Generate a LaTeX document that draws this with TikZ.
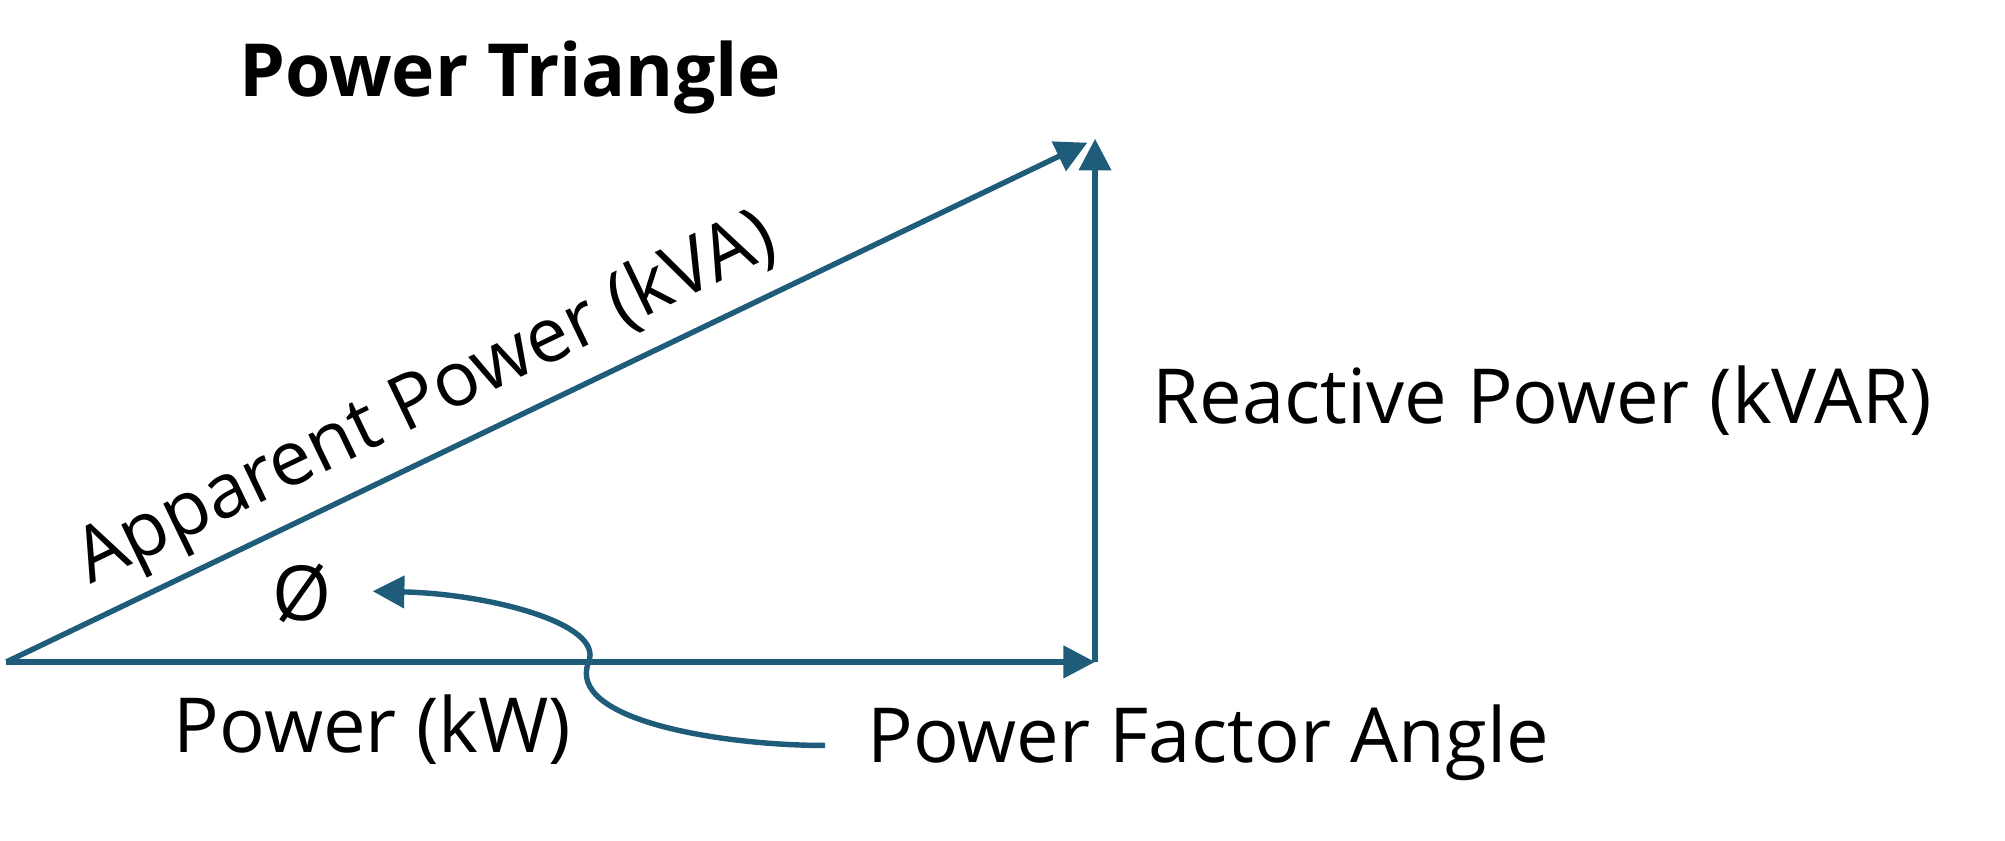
\documentclass[tikz,border=0pt]{standalone}
\usepackage{fontspec}
\setmainfont{Open Sans}
\usetikzlibrary{arrows.meta}
\definecolor{ln}{HTML}{1F5C7A}
\begin{document}
\begin{tikzpicture}[x=0.01cm,y=-0.01cm,
  vec/.style={draw=ln,line width=1.2pt,-{Triangle[length=7pt,width=7pt]}},
  lbl/.style={font=\fontsize{16.8}{18}\selectfont,inner sep=0pt}]
\useasboundingbox (0,0) rectangle (1560,654);
\coordinate (O) at (5,515);
\coordinate (B) at (852,515);
\coordinate (T) at (852,108);
\coordinate (TA) at (846,111);
\draw[vec] (O) -- (B);
\draw[vec] (B) -- (T);
\draw[vec] (O) -- (TA);
\node[font=\fontsize{16.2}{18}\selectfont\bfseries,inner sep=0pt] (title) at (397,60) {Power Triangle};
\node[lbl] (react) at (1200,312) {Reactive Power (kVAR)};
\node[lbl] (kw) at (290,568) {Power (kW)};
\node[lbl] (pfa) at (940,578) {Power Factor Angle};
\node[lbl] (phi) at (235,462) {Ø};
\node[lbl,rotate=25.7] (app) at (332,312) {Apparent Power (kVA)};
\coordinate (cs) at (642,580);
\coordinate (ce) at (290,460);
\draw[vec] (cs) .. controls (560,580) and (440,560) .. (458,515)
  .. controls (470,485) and (380,462) .. (ce);
\end{tikzpicture}
\end{document}
